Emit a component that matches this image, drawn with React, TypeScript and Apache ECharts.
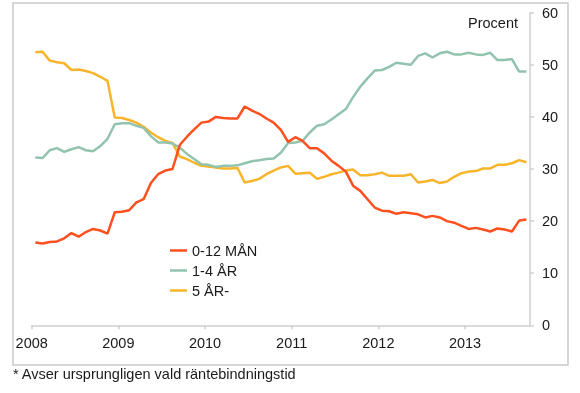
import React, { useEffect, useRef } from "react";
import * as echarts from "echarts";

const seriesNames = ["0-12 MÅN", "1-4 ÅR", "5 ÅR-"];
const yearLabels = ["2008", "2009", "2010", "2011", "2012", "2013"];
const yTicks = [0, 10, 20, 30, 40, 50, 60];

// Monthly values, Jan 2008 – Sep 2013 (69 months)
const shortRate = [
  15.9, 15.7, 16.0, 16.1, 16.7, 17.7, 17.0, 17.9, 18.5, 18.2, 17.6, 21.7,
  21.8, 22.1, 23.6, 24.2, 27.3, 29.0, 29.7, 30.0, 34.6, 36.2, 37.6, 38.9,
  39.1, 40.0, 39.8, 39.7, 39.7, 42.0, 41.2, 40.6, 39.7, 38.9, 37.5, 35.2,
  36.1, 35.4, 34.0, 34.0, 33.0, 31.6, 30.6, 29.5, 26.8, 25.8, 24.2, 22.6,
  22.0, 21.9, 21.4, 21.7, 21.5, 21.3, 20.7, 21.0, 20.7, 20.0, 19.7, 19.1,
  18.5, 18.7, 18.4, 18.0, 18.6, 18.4, 18.0, 20.1, 20.3,
];
const midRate = [
  32.2, 32.1, 33.6, 34.0, 33.3, 33.8, 34.2, 33.6, 33.4, 34.4, 35.8, 38.6,
  38.8, 38.8, 38.3, 37.9, 36.3, 35.1, 35.1, 34.9, 34.1, 32.9, 31.9, 30.9,
  30.8, 30.4, 30.6, 30.6, 30.7, 31.1, 31.5, 31.7, 31.9, 32.0, 33.1, 35.0,
  35.1, 35.4, 37.0, 38.3, 38.6, 39.5, 40.5, 41.5, 43.8, 45.8, 47.4, 48.9,
  49.0, 49.6, 50.4, 50.2, 50.0, 51.7, 52.2, 51.4, 52.2, 52.5, 52.0, 52.0,
  52.3, 52.0, 51.9, 52.3, 50.9, 50.9, 51.1, 48.7, 48.7,
];
const longRate = [
  52.4, 52.5, 50.8, 50.5, 50.3, 49.0, 49.1, 48.8, 48.4, 47.7, 46.9, 39.9,
  39.8, 39.4, 38.9, 38.1, 37.0, 36.1, 35.4, 35.0, 32.4, 31.9, 31.2, 30.6,
  30.5, 30.3, 30.1, 30.1, 30.2, 27.4, 27.7, 28.1, 29.0, 29.7, 30.3, 30.6,
  29.1, 29.2, 29.3, 28.1, 28.5, 29.0, 29.3, 29.7, 29.9, 28.8, 28.8, 29.0,
  29.3, 28.7, 28.7, 28.7, 29.0, 27.4, 27.6, 27.9, 27.3, 27.6, 28.5, 29.2,
  29.5, 29.6, 30.1, 30.1, 30.8, 30.8, 31.1, 31.7, 31.3,
];

const colors = ["#ff5020", "#92c3af", "#f8b52c"];
const FONT = "Liberation Sans, Arial, sans-serif";

export default function App() {
  const ref = useRef<HTMLDivElement>(null);

  useEffect(() => {
    document.body.style.margin = "0";
    if (!ref.current) return;
    const chart = echarts.init(ref.current, null, { renderer: "svg" });
    const toPairs = (arr: number[]) => arr.map((v, i) => [i + 0.5, v]);
    const allSeries = [shortRate, midRate, longRate];
    const nMonths = shortRate.length;

    chart.setOption({
      animation: false,
      textStyle: { fontFamily: FONT },
      grid: { left: 31.7, right: 50, top: 12.7, bottom: 67.7 },
      legend: {
        orient: "vertical",
        left: 165,
        top: 237,
        itemWidth: 17,
        itemHeight: 2.5,
        itemGap: 3,
        icon: "rect",
        data: seriesNames,
        textStyle: {
          fontFamily: FONT,
          fontSize: 14.5,
          color: "#1a1a1a",
          lineHeight: 17,
        },
      },
      xAxis: {
        type: "value",
        min: 0,
        max: nMonths,
        interval: 12,
        splitLine: { show: false },
        axisLine: {
          show: true,
          onZero: false,
          lineStyle: { color: "#cfcfcf", width: 1.5 },
        },
        axisTick: {
          show: true,
          length: 4,
          lineStyle: { color: "#cfcfcf", width: 1.5 },
          customValues: yearLabels.map((_, i) => i * 12),
        },
        axisLabel: {
          margin: 10,
          fontSize: 14.5,
          fontFamily: FONT,
          color: "#1a1a1a",
          customValues: yearLabels.map((_, i) => i * 12),
          formatter: (v: number) => yearLabels[Math.round(v / 12)] ?? "",
        },
      },
      yAxis: {
        type: "value",
        position: "right",
        min: 0,
        max: 60,
        interval: 10,
        splitLine: { show: false },
        axisLine: {
          show: true,
          onZero: false,
          lineStyle: { color: "#cfcfcf", width: 1.5 },
        },
        axisTick: {
          show: true,
          length: 4,
          lineStyle: { color: "#cfcfcf", width: 1.5 },
        },
        axisLabel: {
          margin: 12,
          fontSize: 14.5,
          fontFamily: FONT,
          color: "#1a1a1a",
          formatter: (v: number) => (yTicks.includes(v) ? String(v) : ""),
        },
      },
      series: seriesNames.map((name, i) => ({
        name,
        type: "line",
        data: toPairs(allSeries[i]),
        showSymbol: false,
        symbol: "none",
        lineStyle: { width: 2.5, color: colors[i] },
        itemStyle: { color: colors[i] },
        z: 3 - i,
      })),
      graphic: [
        {
          type: "rect",
          shape: { x: 13, y: 3, width: 555, height: 362 },
          style: { fill: "none", stroke: "#c8c8c8", lineWidth: 1.5 },
          silent: true,
        },
        {
          type: "text",
          x: 518,
          y: 22.7,
          style: {
            text: "Procent",
            fontSize: 14.5,
            fontFamily: FONT,
            fill: "#1a1a1a",
            align: "right",
            verticalAlign: "middle",
          },
        },
        {
          type: "text",
          x: 13,
          y: 373.5,
          style: {
            text: "* Avser ursprungligen vald räntebindningstid",
            fontSize: 14.5,
            fontFamily: FONT,
            fill: "#1a1a1a",
            align: "left",
            verticalAlign: "middle",
          },
        },
      ],
    });

    return () => chart.dispose();
  }, []);

  return (
    <div
      ref={ref}
      style={{ position: "fixed", left: 0, top: 0, width: 580, height: 393 }}
    />
  );
}
